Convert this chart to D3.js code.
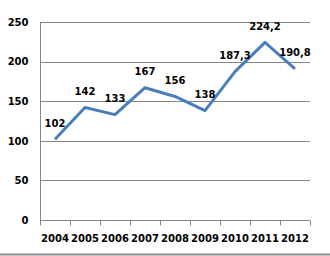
<!DOCTYPE html>
<html><head><meta charset="utf-8">
<script src="https://cdn.jsdelivr.net/npm/d3@7"></script>
<style>html,body{margin:0;padding:0;background:#fff;}svg{display:block;}</style>
</head><body>
<svg id="c" width="330" height="256"></svg>
<script>
const years = ["2004","2005","2006","2007","2008","2009","2010","2011","2012"];
const values = [102, 142, 133, 167, 156, 138, 187.3, 224.2, 190.8];
const valueLabels = ["102","142","133","167","156","138","187,3","224,2","190,8"];
const yTicks = [0, 50, 100, 150, 200, 250];

const svg = d3.select("#c");
const L = 40, R = 310, T = 22, B = 220;
const x = d3.scaleBand().domain(years).range([L, R]);
const y = d3.scaleLinear().domain([0, 250]).range([B, T]);
const font = "DejaVu Sans, Verdana, sans-serif";
const grey = "#868686";

// gridlines
svg.append("g").selectAll("line").data(yTicks.filter(d => d > 0)).join("line")
  .attr("x1", L).attr("x2", R)
  .attr("y1", d => Math.round(y(d)) + 0.5).attr("y2", d => Math.round(y(d)) + 0.5)
  .attr("stroke", grey).attr("stroke-width", 1);

// y axis
const yAxis = svg.append("g").attr("transform", `translate(${L + 0.5},0)`)
  .call(d3.axisLeft(y).tickValues(yTicks).tickSize(0).tickPadding(12));
yAxis.select(".domain").attr("stroke", grey).attr("d", `M0,${y(250)}V${y(0)}`);
yAxis.selectAll("text").attr("font-family", font).attr("font-weight", "bold")
  .attr("font-size", 10).attr("fill", "#000");

// x axis
const xAxis = svg.append("g").attr("transform", `translate(0,${Math.round(B) + 0.5})`)
  .call(d3.axisBottom(x).tickSize(0).tickPadding(14));
xAxis.select(".domain").attr("stroke", grey).attr("d", `M${L},0H${R}`);
xAxis.selectAll("text").attr("font-family", font).attr("font-weight", "bold")
  .attr("font-size", 10).attr("fill", "#000");
// tick marks at band boundaries
const bounds = years.map(d => x(d)).concat([R]);
xAxis.append("g").selectAll("line").data(bounds).join("line")
  .attr("x1", d => Math.round(d) + 0.5).attr("x2", d => Math.round(d) + 0.5)
  .attr("y1", 0).attr("y2", 5).attr("stroke", grey);

// line
const cx = d => x(d) + x.bandwidth() / 2;
svg.append("path").datum(values.map((v, i) => [cx(years[i]), y(v)]))
  .attr("d", d3.line())
  .attr("fill", "none").attr("stroke", "#4A7EBB").attr("stroke-width", 3)
  .attr("stroke-linejoin", "round").attr("stroke-linecap", "butt");

// data labels
svg.append("g").selectAll("text").data(values).join("text")
  .attr("x", (d, i) => cx(years[i]))
  .attr("y", d => y(d) - 12.5)
  .attr("text-anchor", "middle")
  .attr("font-family", font).attr("font-weight", "bold").attr("font-size", 10)
  .attr("fill", "#000")
  .text((d, i) => valueLabels[i]);

// bottom border line
svg.append("line").attr("x1", 0).attr("x2", 330).attr("y1", 254.5).attr("y2", 254.5)
  .attr("stroke", "#8c8c8c").attr("stroke-width", 2);
</script>
</body></html>
